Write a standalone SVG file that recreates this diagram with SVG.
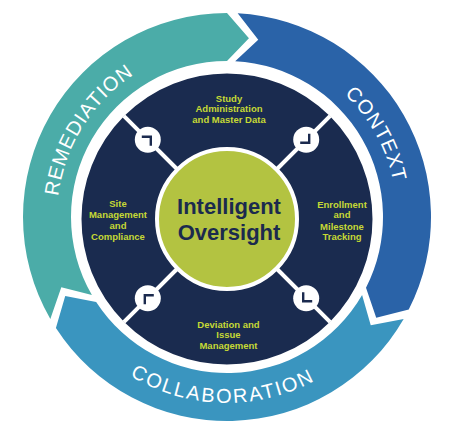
<svg xmlns="http://www.w3.org/2000/svg" xmlns:xlink="http://www.w3.org/1999/xlink" width="450" height="438" viewBox="0 0 450 438">
<style>
.ring{font-family:"Liberation Sans",Arial,sans-serif;font-size:20px;fill:#ffffff;}
.lbl{font-family:"Liberation Sans",Arial,sans-serif;font-size:9.5px;font-weight:bold;fill:#C6D935;text-anchor:middle;}
.ctr{font-family:"Liberation Sans",Arial,sans-serif;font-size:22px;font-weight:bold;fill:#1B2A4E;text-anchor:middle;}
.spoke{stroke:#ffffff;stroke-width:4;}
.knob{fill:#ffffff;}
.chev{fill:none;stroke:#1B2A4E;stroke-width:2.4;stroke-linecap:butt;stroke-linejoin:miter;}
</style>
<defs>
<path id="arcRem" d="M76.90,296.81 A170,170 0 0 1 232.93,47.10"/>
<path id="arcCtx" d="M229.97,47.03 A170,170 0 0 1 372.72,304.56"/>
<path id="arcCol" d="M63.70,306.02 A186,186 0 0 0 385.59,313.91"/>
<path id="chev" d="M-6,-3 L3,-3 L3,6"/>
</defs>
<rect width="450" height="438" fill="#ffffff"/>

<g id="remediation">
<path fill="#4BACA8" d="M50.33,319 A204,204 0 0 1 227,13 L248.94,38.34 L227,61 A156,156 0 0 0 91.90,295 L61.31,287.33 Z"/>
<text class="ring" letter-spacing="1"><textPath xlink:href="#arcRem" href="#arcRem" startOffset="50%" text-anchor="middle">REMEDIATION</textPath></text>
</g>
<g id="context">
<path fill="#2A63A8" d="M237.68,13.28 A204,204 0 0 1 408.77,309.61 L376.23,317.65 L366.0,287.82 A156,156 0 0 0 235.17,61.21 L258.26,39.73 Z"/>
<text class="ring" letter-spacing="1"><textPath xlink:href="#arcCtx" href="#arcCtx" startOffset="50%" text-anchor="middle">CONTEXT</textPath></text>
</g>
<g id="collaboration">
<path fill="#3A95BF" d="M403.67,319 A204,204 0 0 1 55.91,328.11 L65.22,295.91 L96.17,301.96 A156,156 0 0 0 362.10,295 L370.75,325.33 Z"/>
<text class="ring" letter-spacing="2"><textPath xlink:href="#arcCol" href="#arcCol" startOffset="50%" text-anchor="middle">COLLABORATION</textPath></text>
</g>

<g id="hub-ring">
<circle cx="227" cy="219" r="147" fill="#1A2B4F" stroke="#ffffff" stroke-width="3"/>
</g>

<g id="connectors">
<line class="spoke" x1="177.5" y1="169.5" x2="123.8" y2="115.8"/>
<line class="spoke" x1="276.5" y1="169.5" x2="330.2" y2="115.8"/>
<line class="spoke" x1="276.5" y1="268.5" x2="330.2" y2="322.2"/>
<line class="spoke" x1="177.5" y1="268.5" x2="123.8" y2="322.2"/>
<g transform="translate(147.8,139.8)"><circle class="knob" r="13"/><use href="#chev" xlink:href="#chev" class="chev"/></g>
<g transform="translate(306.2,139.8) rotate(90)"><circle class="knob" r="13"/><use href="#chev" xlink:href="#chev" class="chev"/></g>
<g transform="translate(306.2,298.2) rotate(180)"><circle class="knob" r="13"/><use href="#chev" xlink:href="#chev" class="chev"/></g>
<g transform="translate(147.8,298.2) rotate(270)"><circle class="knob" r="13"/><use href="#chev" xlink:href="#chev" class="chev"/></g>
</g>

<g id="study">
<text class="lbl" x="229" y="101.5">Study</text>
<text class="lbl" x="229" y="112">Administration</text>
<text class="lbl" x="229" y="122.5">and Master Data</text>
</g>
<g id="site">
<text class="lbl" x="118" y="207">Site</text>
<text class="lbl" x="118" y="218">Management</text>
<text class="lbl" x="118" y="229">and</text>
<text class="lbl" x="118" y="240">Compliance</text>
</g>
<g id="enrollment">
<text class="lbl" x="342" y="207.5">Enrollment</text>
<text class="lbl" x="342" y="218">and</text>
<text class="lbl" x="342" y="229.5">Milestone</text>
<text class="lbl" x="342" y="240">Tracking</text>
</g>
<g id="deviation">
<text class="lbl" x="228.5" y="328">Deviation and</text>
<text class="lbl" x="228.5" y="338">Issue</text>
<text class="lbl" x="228.5" y="348.5">Management</text>
</g>

<g id="center">
<circle cx="227" cy="219" r="70" fill="#B3C341" stroke="#ffffff" stroke-width="4"/>
<text class="ctr" x="229" y="214">Intelligent</text>
<text class="ctr" x="229" y="240">Oversight</text>
</g>
</svg>
